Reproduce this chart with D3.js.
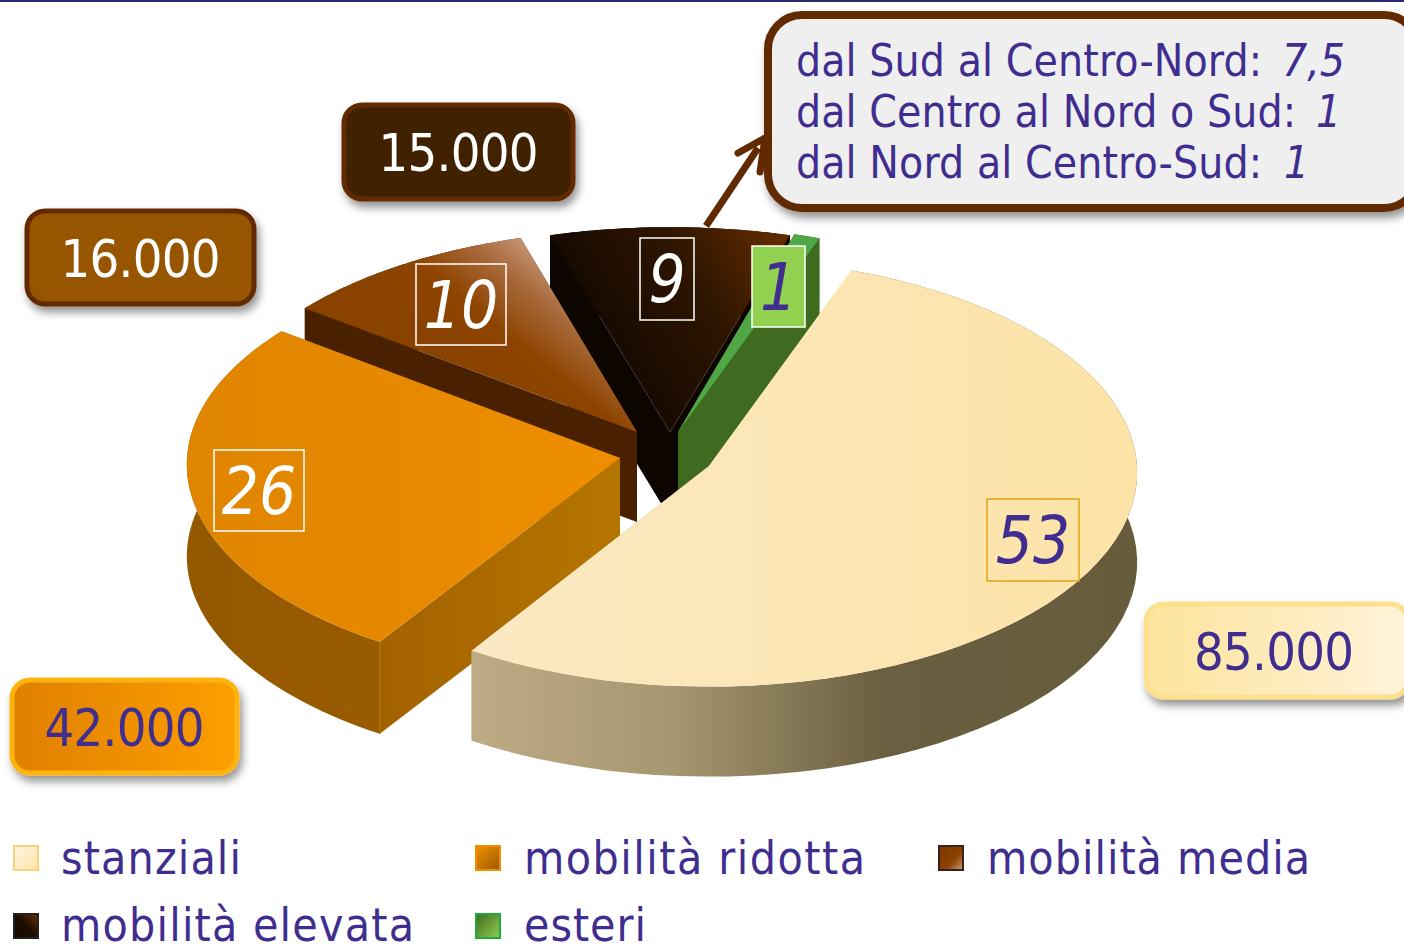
<!DOCTYPE html>
<html><head><meta charset="utf-8">
<script src="https://cdn.jsdelivr.net/npm/d3@7"></script>
<style>html,body{margin:0;padding:0;background:#fff;overflow:hidden}svg{display:block}
text{font-family:"DejaVu Sans Condensed","DejaVu Sans",sans-serif;font-stretch:condensed}</style>
</head><body><svg id="c" width="1404" height="946"></svg>
<script>
// DATA
const categories = ["stanziali","mobilità ridotta","mobilità media","mobilità elevata","esteri"];
const percentages = [53,26,10,9,1];
const counts = ["85.000","42.000","16.000","15.000",null];
const calloutLines = ["dal Sud al Centro-Nord:","dal Centro al Nord o Sud:","dal Nord al Centro-Sud:"];
const calloutValues = ["7,5","1","1"];

// LAYOUT
const W=1404,H=946,INK="#3f2e8f",BR="#622a00";
const svg=d3.select("#c");
const defs=svg.append("defs");
const lin=(id,stops,x1,y1,x2,y2,user)=>{const g=defs.append("linearGradient").attr("id",id)
 .attr("x1",x1).attr("y1",y1).attr("x2",x2).attr("y2",y2);
 if(user)g.attr("gradientUnits","userSpaceOnUse");
 stops.forEach(s=>g.append("stop").attr("offset",s[0]).attr("stop-color",s[1]));};
lin("yTop",[[0,"#fbe9c4"],[1,"#fde3a6"]],470,0,1137,0,true);
lin("ySide",[[0,"#bcab84"],[.3,"#a79770"],[.62,"#6a5f40"],[1,"#665b3b"]],473,0,1137,0,true);
lin("oTop",[[0,"#e08500"],[1,"#ee8e00"]],187,0,620,0,true);
lin("oSide",[[0,"#935800"],[.6,"#9c5c00"],[1,"#a56600"]],187,0,620,0,true);
lin("oWall",[[0,"#a36200"],[1,"#b57600"]],382,0,620,0,true);
lin("kTop",[[0,"#6a2f00"],[.5,"#2e1500"],[1,"#150900"]],790,225,600,340,true);
lin("bTop",[[0,"#d0a88c"],[.35,"#a86a3c"],[.7,"#8e4400"],[1,"#8a4200"]],560,250,470,360,true);
lin("l42",[[0,"#e08000"],[1,"#fd9e00"]],0,0,1,0);
lin("l85",[[0,"#fde39c"],[1,"#fff3da"]],0,0,1,0);
lin("s0",[[0,"#fff6e0"],[1,"#fde3a8"]],0,0,1,1);
lin("s1",[[0,"#f09000"],[1,"#9a5a00"]],0,0,1,1);
lin("s2",[[0,"#7a3800"],[.6,"#8e4300"],[1,"#c8a080"]],0,0,1,1);
lin("s3",[[0,"#140800"],[.5,"#1c0d00"],[1,"#6a2f00"]],0,1,1,0);
lin("s4",[[0,"#3f6b20"],[1,"#92d050"]],0,0,1,1);
const sh=defs.append("filter").attr("id","sh").attr("x","-10%").attr("y","-10%").attr("width","125%").attr("height","130%");
sh.append("feDropShadow").attr("dx",3).attr("dy",6).attr("stdDeviation",4).attr("flood-color","#000").attr("flood-opacity",.42);

svg.append("rect").attr("width",W).attr("height",2).attr("fill","#2b2b70");

// PIE (angles from d3.pie, projected with a slight perspective p)
const rad=d=>d*Math.PI/180, P=.03;
const arcs=d3.pie().sort(null).value(d=>d).startAngle(rad(20)).endAngle(rad(380))(percentages);
const geo=[
 {ax:709,ay:466,rx:428,ry:214,h:90,top:"url(#yTop)",side:"url(#ySide)",s:"#ecd9a8",e:"#bcab84",first:"s"},
 {ax:620,ay:458,rx:433,ry:213,h:92,top:"url(#oTop)",side:"url(#oSide)",s:"url(#oWall)",e:"#9c5c00",first:"e"},
 {ax:637,ay:432,rx:425,ry:208,h:90,top:"url(#bTop)",side:"#4a2100",s:"#4a2100",e:"#4a2100",first:"e"},
 {ax:670,ay:432,rx:438,ry:211,h:86,top:"url(#kTop)",side:"#0c0500",s:"#0c0500",e:"#0c0500",first:"s"},
 {ax:678,ay:432,rx:425,ry:212,h:90,top:"#4fa845",side:"#3f6b20",s:"#3f6b20",e:"#3f6b20",first:"s"}
];
const pieG=svg.append("g");
const line=d3.line();
const pt=(g,a,dy=0)=>{const w=1+P*Math.cos(a);return [g.ax+g.rx*Math.sin(a)/w,g.ay-g.ry*Math.cos(a)/w+dy];};
[3,4,2,1,0].forEach(i=>{
 const g=geo[i],a=arcs[i],G=pieG.append("g");
 const angs=d3.range(0,61).map(k=>a.startAngle+(a.endAngle-a.startAngle)*k/60);
 const ctr=[g.ax,g.ay],ctrB=[g.ax,g.ay+g.h];
 const wall=(ang,fill)=>G.append("path").attr("d",line([ctr,pt(g,ang),pt(g,ang,g.h),ctrB])+"Z").attr("fill",fill);
 if(g.first==="s"){wall(a.startAngle,g.s);wall(a.endAngle,g.e);}
 else{wall(a.endAngle,g.e);wall(a.startAngle,g.s);}
 G.append("path").attr("d",line(angs.map(t=>pt(g,t)).concat(angs.slice().reverse().map(t=>pt(g,t,g.h))))+"Z").attr("fill",g.side);
 G.append("path").attr("d",line([ctr].concat(angs.map(t=>pt(g,t))))+"Z").attr("fill",g.top);
 if(i===1) G.append("path").attr("d",line([pt(g,a.startAngle),pt(g,a.startAngle,g.h)])).attr("stroke","#b87400").attr("stroke-width",1).attr("fill","none");
});

// VALUE TAGS
const tags=[
 {i:0,x:987,y:499,w:92,h:82,stroke:"#e3a413",fill:"none",col:INK},
 {i:1,x:214,y:450,w:90,h:81,stroke:"#fff",fill:"none",col:"#fff"},
 {i:2,x:416,y:264,w:90,h:81,stroke:"#fff",fill:"none",col:"#fff"},
 {i:3,x:640,y:238,w:54,h:82,stroke:"#fff",fill:"none",col:"#fff"},
 {i:4,x:752,y:246,w:53,h:81,stroke:"#fff",fill:"#92d050",col:INK}
];
tags.forEach(t=>{
 svg.append("rect").attr("x",t.x).attr("y",t.y).attr("width",t.w).attr("height",t.h)
  .attr("fill",t.fill).attr("stroke",t.stroke).attr("stroke-width",1.5);
 svg.append("text").attr("x",t.x+t.w/2).attr("y",t.y+t.h/2+23).attr("text-anchor","middle")
  .attr("font-size",65).attr("font-style","italic").attr("fill",t.col).text(percentages[t.i]);
});

// COUNT BOXES
const boxes=[
 {i:0,x:1146,y:604,w:262,h:93,fill:"url(#l85)",stroke:"#fde08c",col:INK},
 {i:1,x:12,y:680,w:225,h:93,fill:"url(#l42)",stroke:"#ffb30f",col:INK},
 {i:2,x:27,y:211,w:227,h:93,fill:"#985400",stroke:BR,col:"#fff"},
 {i:3,x:344,y:105,w:229,h:94,fill:"#3f2000",stroke:BR,col:"#fff"}
];
boxes.forEach(b=>{
 svg.append("rect").attr("x",b.x).attr("y",b.y).attr("width",b.w).attr("height",b.h).attr("rx",18)
  .attr("fill",b.fill).attr("stroke",b.stroke).attr("stroke-width",5).attr("filter","url(#sh)");
 svg.append("text").attr("x",b.i===0?1274:b.x+b.w/2).attr("y",b.y+b.h/2+19).attr("text-anchor","middle")
  .attr("font-size",52).attr("textLength",160).attr("lengthAdjust","spacing").attr("fill",b.col).text(counts[b.i]);
});

// CALLOUT
svg.append("rect").attr("x",768).attr("y",15).attr("width",650).attr("height",193).attr("rx",34)
 .attr("fill","#efefef").attr("stroke",BR).attr("stroke-width",8).attr("filter","url(#sh)");
const arrowLine=d3.line();
svg.append("path").attr("d",arrowLine([[706,226],[758,148]].map(d=>d))).attr("stroke",BR).attr("stroke-width",7).attr("fill","none");
svg.append("path").attr("d",arrowLine([[738,153],[765,138],[760,172]])).attr("stroke",BR).attr("stroke-width",7)
 .attr("stroke-linecap","round").attr("stroke-linejoin","round").attr("fill","none");
const lens=[466,500,466],vx=[1282,1316,1284];
calloutLines.forEach((l,i)=>{
 const y=76+i*51;
 svg.append("text").attr("x",796).attr("y",y).attr("font-size",44).attr("textLength",lens[i]).attr("lengthAdjust","spacing").attr("fill",INK).text(l);
 svg.append("text").attr("x",vx[i]).attr("y",y).attr("font-size",44).attr("font-style","italic").attr("fill",INK).text(calloutValues[i]);
});

// LEGEND
const legend=[
 {x:14,y:846,tx:61,by:874,stroke:"#fdd27e",len:180},
 {x:476,y:846,tx:524,by:874,stroke:"#f09000",len:341},
 {x:939,y:846,tx:987,by:874,stroke:"#3b2020",len:323},
 {x:14,y:914,tx:61,by:941,stroke:"#222",len:353},
 {x:476,y:914,tx:524,by:941,stroke:"#1faa40",len:122}
];
categories.forEach((c,i)=>{
 const l=legend[i];
 svg.append("rect").attr("x",l.x).attr("y",l.y).attr("width",24).attr("height",24)
  .attr("fill",`url(#s${i})`).attr("stroke",l.stroke).attr("stroke-width",2);
 svg.append("text").attr("x",l.tx).attr("y",l.by).attr("font-size",46).attr("textLength",l.len).attr("lengthAdjust","spacing").attr("fill",INK).text(c);
});
</script></body></html>
